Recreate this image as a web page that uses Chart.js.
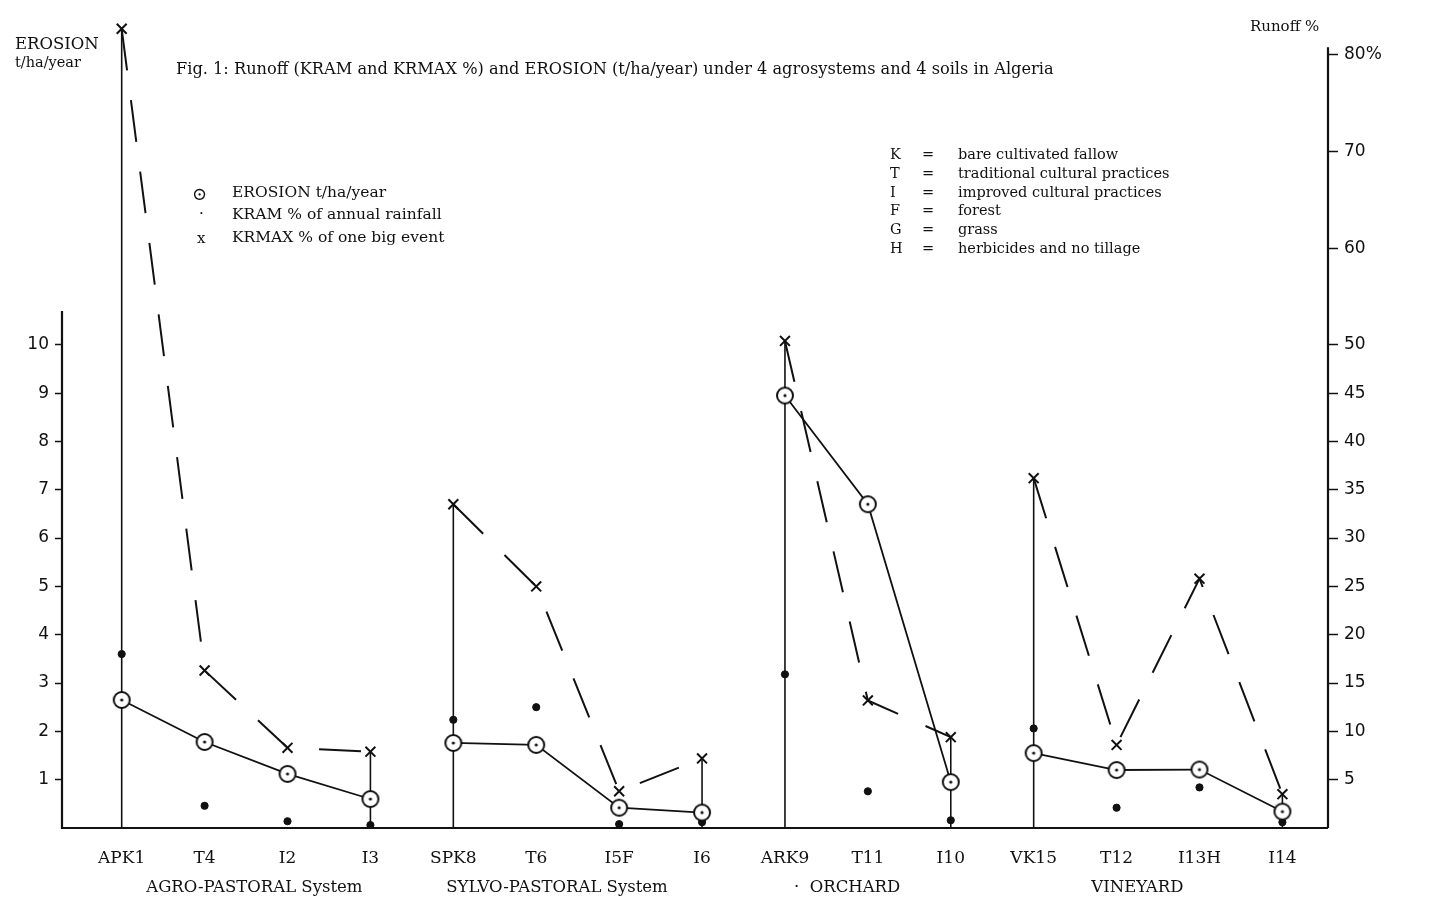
<!DOCTYPE html>
<html>
<head>
<meta charset="utf-8">
<script src="https://cdn.jsdelivr.net/npm/chart.js@4"></script>
<style>
  body { margin: 0; background: #fff; }
  #wrap { position: relative; width: 1430px; height: 903px; font-family: "DejaVu Serif", serif; color: #111; }
  .t { position: absolute; white-space: nowrap; line-height: 1; }
</style>
</head>
<body>
<div id="wrap">
  <canvas id="fig"></canvas>
  <div class="t" style="left:15px;top:36px;font-size:16.5px;">EROSION</div>
  <div class="t" style="left:15px;top:55px;font-size:14.5px;">t/ha/year</div>
  <div class="t" style="left:176px;top:61px;font-size:16.2px;">Fig. 1: Runoff (KRAM and KRMAX %) and EROSION (t/ha/year) under 4 agrosystems and 4 soils in Algeria</div>
  <div class="t" style="left:1250px;top:19px;font-size:15px;">Runoff %</div>

  <div class="t" style="left:192px;top:185px;font-size:18px;">&#8857;</div>
  <div class="t" style="left:232px;top:185px;font-size:15.5px;">EROSION t/ha/year</div>
  <div class="t" style="left:199px;top:202px;font-size:15px;">.</div>
  <div class="t" style="left:232px;top:207px;font-size:15.5px;">KRAM % of annual rainfall</div>
  <div class="t" style="left:197px;top:231px;font-size:15px;">x</div>
  <div class="t" style="left:232px;top:230px;font-size:15.5px;">KRMAX % of one big event</div>

  <div class="t" style="left:890px;top:145px;font-size:14.5px;line-height:18.8px;">K<br>T<br>I<br>F<br>G<br>H</div>
  <div class="t" style="left:922px;top:145px;font-size:14.5px;line-height:18.8px;">=<br>=<br>=<br>=<br>=<br>=</div>
  <div class="t" style="left:958px;top:145px;font-size:14.5px;line-height:18.8px;">bare cultivated fallow<br>traditional cultural practices<br>improved cultural practices<br>forest<br>grass<br>herbicides and no tillage</div>
</div>
<script>
// plots, left to right
var plots = ['APK1', 'T4', 'I2', 'I3', 'SPK8', 'T6', 'I5F', 'I6', 'ARK9', 'T11', 'I10', 'VK15', 'T12', 'I13H', 'I14'];
var groupNames = ['AGRO-PASTORAL System', 'SYLVO-PASTORAL System', '\u00b7  ORCHARD', 'VINEYARD'];
var groupSizes = [4, 4, 3, 4];

// erosion t/ha/year (left scale)
var erosion = [2.65, 1.78, 1.12, 0.6, 1.76, 1.72, 0.42, 0.32, 8.95, 6.7, 0.95, 1.55, 1.2, 1.21, 0.34];
// KRMAX % of one big event (right scale)
var krmax = [82.7, 16.3, 8.3, 7.9, 33.5, 25, 3.8, 7.2, 50.4, 13.2, 9.4, 36.2, 8.6, 25.8, 3.5];
// KRAM % of annual rainfall (right scale)
var kram = [18, 2.3, 0.7, 0.3, 11.2, 12.5, 0.4, 0.6, 15.9, 3.8, 0.8, 10.3, 2.1, 4.2, 0.6];

var leftTicks = [1, 2, 3, 4, 5, 6, 7, 8, 9, 10];
var rightTicks = [5, 10, 15, 20, 25, 30, 35, 40, 45, 50, 60, 70, 80];

// group start index for each plot
var starts = [];
groupSizes.reduce(function (s, n) { starts.push(s); return s + n; }, 0);

function grouped(vals) {
  var out = [];
  starts.forEach(function (s, g) {
    for (var i = s; i < s + groupSizes[g]; i++) out.push({ x: i, y: vals[i] });
    out.push({ x: s + groupSizes[g] - 0.5, y: null });
  });
  return out;
}

// vertical drop lines at both ends of each group
var drops = [];
starts.forEach(function (s, g) {
  [s, s + groupSizes[g] - 1].forEach(function (i) {
    drops.push({ x: i, y: 0 }, { x: i, y: krmax[i] }, { x: i, y: null });
  });
});

// circle with a dot in it
var ring = document.createElement('canvas');
ring.width = 22; ring.height = 22;
(function () {
  var c = ring.getContext('2d');
  c.fillStyle = '#fff'; c.strokeStyle = '#111'; c.lineWidth = 2;
  c.beginPath(); c.arc(11, 11, 8, 0, Math.PI * 2); c.fill(); c.stroke();
  c.fillStyle = '#111';
  c.beginPath(); c.arc(11, 11, 1.6, 0, Math.PI * 2); c.fill();
})();

var extras = {
  id: 'extras',
  afterDraw: function (chart) {
    var ctx = chart.ctx, x = chart.scales.x, yL = chart.scales.yL, yR = chart.scales.yR;
    var bottom = chart.chartArea.bottom;
    ctx.save();
    ctx.strokeStyle = '#111';
    ctx.lineWidth = 2.2;
    ctx.beginPath();
    ctx.moveTo(x.left, yL.getPixelForValue(10.7)); ctx.lineTo(x.left, bottom);
    ctx.lineTo(x.right, bottom);
    ctx.moveTo(x.right, yR.getPixelForValue(80.8)); ctx.lineTo(x.right, bottom);
    ctx.stroke();
    ctx.fillStyle = '#111';
    ctx.font = '16.5px "DejaVu Serif"';
    ctx.textAlign = 'center';
    var shift = [0.1, -0.25, -0.25, -0.25]; // hand placement in the original
    starts.forEach(function (s, g) {
      var cx = x.getPixelForValue(s + (groupSizes[g] - 1) / 2 + shift[g]);
      ctx.fillText(groupNames[g], cx, 892);
    });
    ctx.restore();
  }
};

new Chart(document.getElementById('fig'), {
  type: 'line',
  data: {
    datasets: [{
      label: 'EROSION t/ha/year',
      data: grouped(erosion),
      yAxisID: 'yL',
      borderColor: '#111',
      borderWidth: 1.8,
      pointStyle: ring,
      pointRadius: 9,
      spanGaps: false
    }, {
      label: 'KRMAX % of one big event',
      data: grouped(krmax),
      yAxisID: 'yR',
      borderColor: '#111',
      borderWidth: 2,
      borderDash: [42, 30],
      pointStyle: 'crossRot',
      pointRadius: 7,
      pointBorderWidth: 2,
      pointBorderColor: '#111',
      spanGaps: false
    }, {
      label: 'KRAM % of annual rainfall',
      data: kram.map(function (v, i) { return { x: i, y: v }; }),
      yAxisID: 'yR',
      showLine: false,
      pointStyle: 'circle',
      pointRadius: 3.6,
      pointBackgroundColor: '#111',
      pointBorderColor: '#111'
    }, {
      label: 'drops',
      data: drops,
      yAxisID: 'yR',
      borderColor: '#111',
      borderWidth: 1.6,
      pointRadius: 0,
      spanGaps: false
    }]
  },
  options: {
    responsive: true,
    maintainAspectRatio: false,
    animation: false,
    layout: { padding: { top: 5 } },
    plugins: { legend: { display: false }, tooltip: { enabled: false } },
    scales: {
      x: {
        type: 'linear',
        min: -0.72,
        max: 14.55,
        afterBuildTicks: function (s) { s.ticks = plots.map(function (p, i) { return { value: i }; }); },
        afterFit: function (s) { s.height = 75; },
        grid: { display: false },
        border: { display: false },
        ticks: {
          color: '#111',
          padding: 12,
          maxRotation: 0,
          autoSkip: false,
          font: { family: 'DejaVu Serif', size: 17 },
          callback: function (v) { return plots[v]; }
        }
      },
      yL: {
        position: 'left',
        min: 0,
        max: 16.8,
        afterBuildTicks: function (s) { s.ticks = leftTicks.map(function (v) { return { value: v }; }); },
        afterFit: function (s) { s.width = 62; },
        grid: { drawOnChartArea: false, tickLength: 7, tickWidth: 1.5, color: '#111' },
        border: { display: false },
        ticks: { color: '#111', padding: 6, font: { family: 'DejaVu Sans', size: 17 } }
      },
      yR: {
        position: 'right',
        min: 0,
        max: 84,
        afterBuildTicks: function (s) { s.ticks = rightTicks.map(function (v) { return { value: v }; }); },
        afterFit: function (s) { s.width = 102; },
        grid: { drawOnChartArea: false, tickLength: 10, tickWidth: 1.5, color: '#111' },
        border: { display: false },
        ticks: {
          color: '#111',
          padding: 6,
          font: { family: 'DejaVu Sans', size: 17 },
          callback: function (v) { return v === 80 ? '80%' : v; }
        }
      }
    }
  },
  plugins: [extras]
});
</script>
</body>
</html>
